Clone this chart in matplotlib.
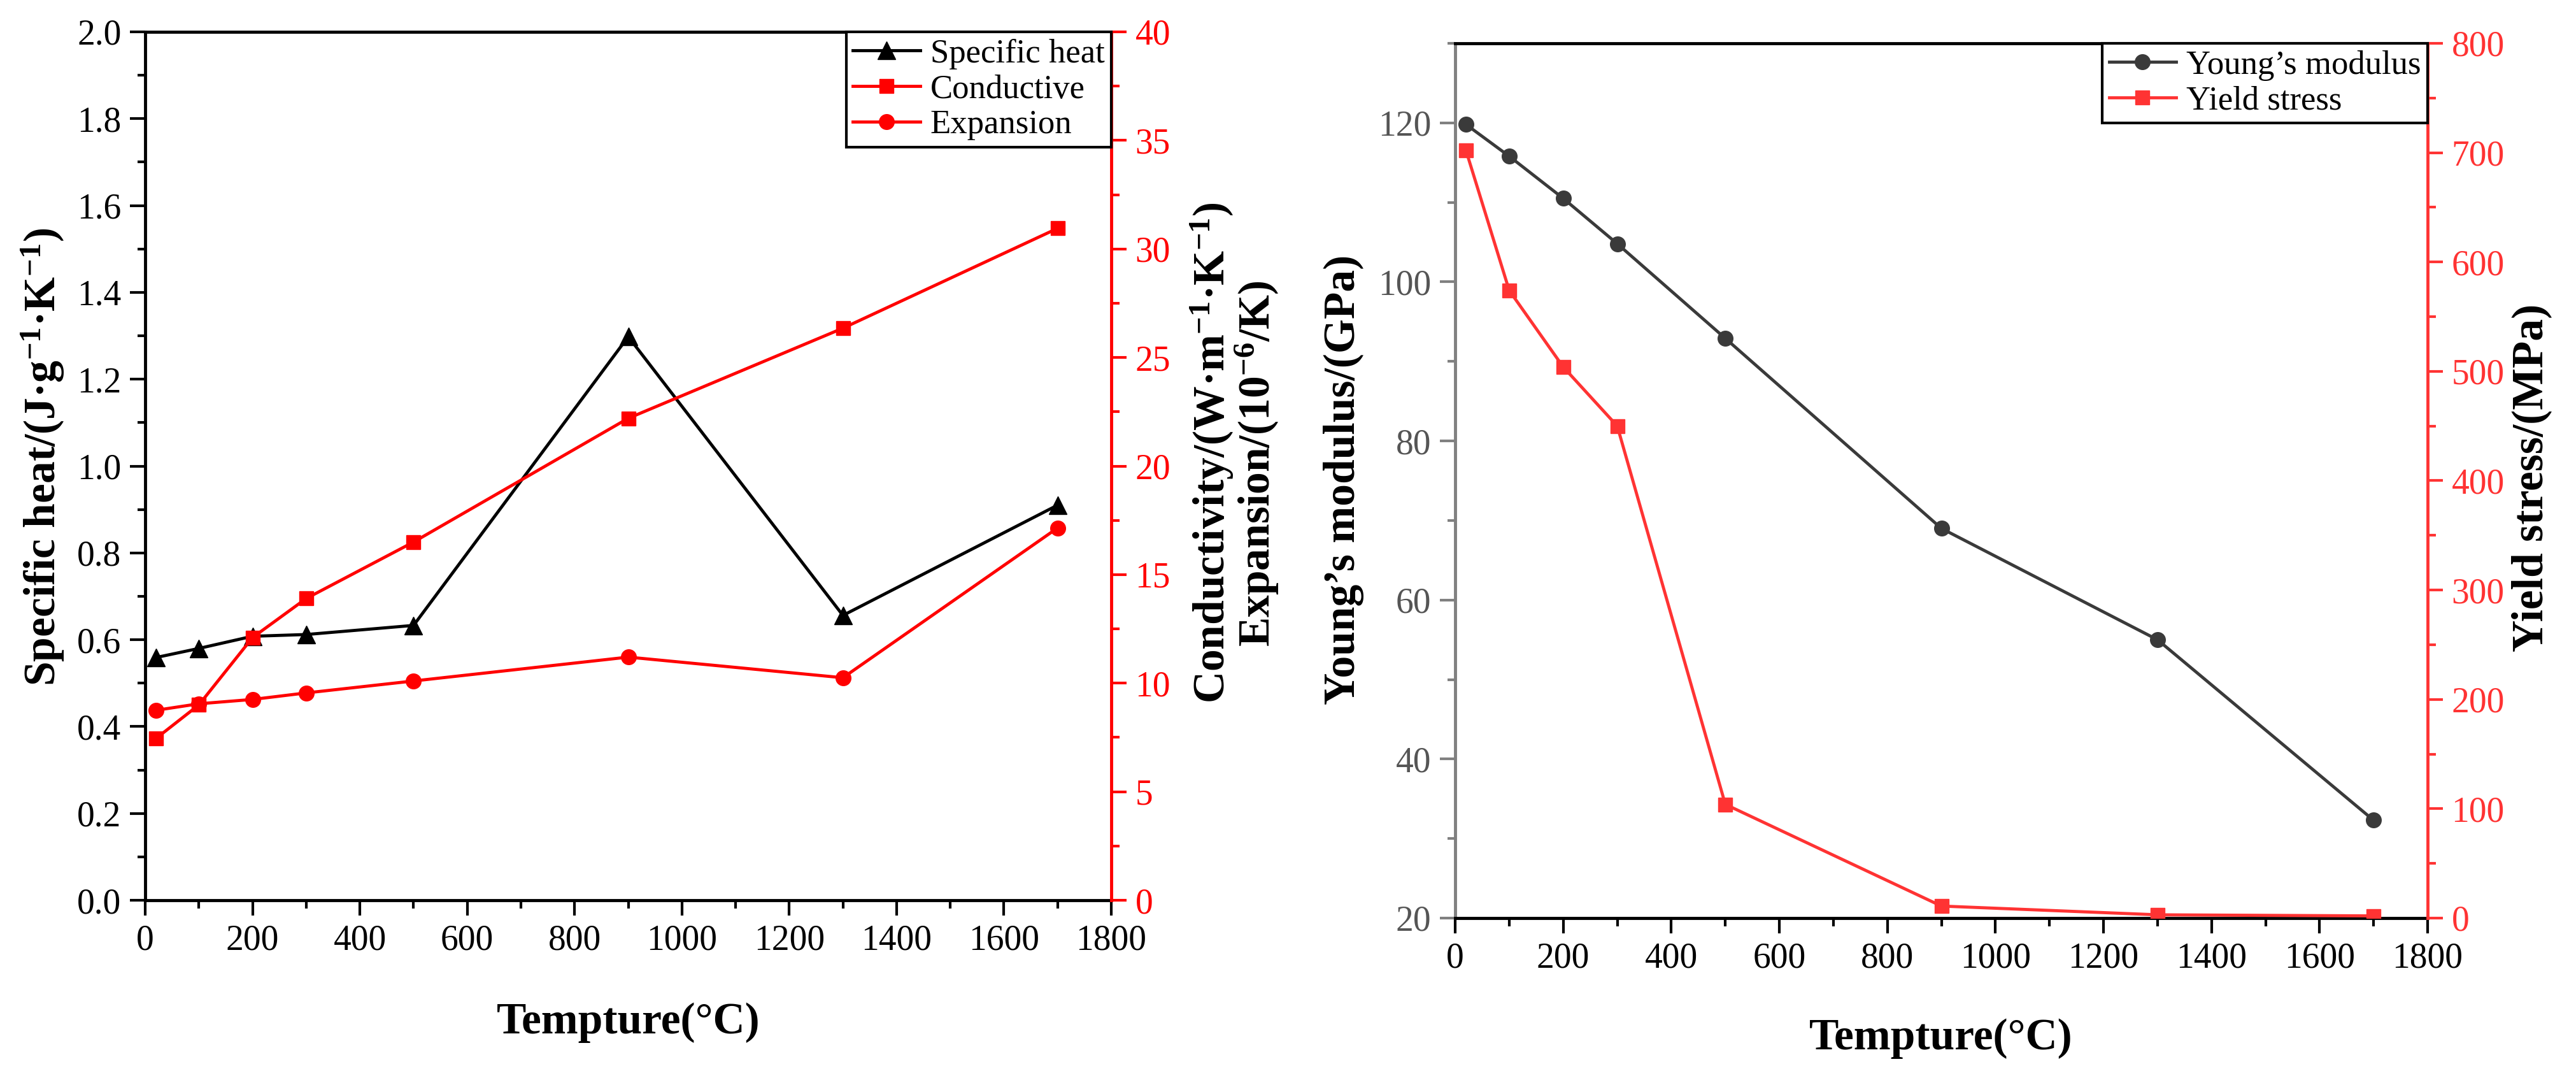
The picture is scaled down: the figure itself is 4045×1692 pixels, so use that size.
import matplotlib
matplotlib.use('Agg')
import matplotlib.pyplot as plt
from matplotlib.ticker import MultipleLocator

plt.rcParams['font.family'] = ['Liberation Serif', 'DejaVu Serif']
plt.rcParams['mathtext.fontset'] = 'custom'
plt.rcParams['mathtext.rm'] = 'Liberation Serif'
plt.rcParams['mathtext.bf'] = 'Liberation Serif:bold'
plt.rcParams['mathtext.it'] = 'Liberation Serif:italic'

# data
temps = [20, 100, 200, 300, 500, 900, 1300, 1700]
specific_heat = [0.559, 0.58, 0.608, 0.612, 0.633, 1.298, 0.656, 0.91]
conductive = [7.45, 9.0, 12.1, 13.9, 16.5, 22.2, 26.35, 30.95]
expansion = [8.75, 9.05, 9.25, 9.55, 10.1, 11.2, 10.25, 17.15]
youngs_modulus = [119.8, 115.8, 110.5, 104.8, 92.9, 69.0, 55.0, 32.3]
yield_stress = [702, 574, 504, 450, 104, 11, 3, 2]

RED = '#ff0000'
RED2 = '#ff3333'
GREY = '#3a3a3a'
TICK_FS = 40
LABEL_FS = 50
LEGEND_FS = 38
SPINE_W = 3.5
LW = 3.5


def style_ticks(ax, axis, color='black', labelcolor=None):
    ax.tick_params(axis=axis, which='major', direction='out', length=17, width=3,
                   color=color, labelcolor=labelcolor or color, labelsize=TICK_FS, pad=10)
    ax.tick_params(axis=axis, which='minor', direction='out', length=9, width=3, color=color)


fig = plt.figure(figsize=(40.45, 16.92), dpi=100)

# ---------- left panel ----------
ax1 = fig.add_axes([0.05637, 0.16489, 0.37503, 0.80556])
ax1b = ax1.twinx()

l1, = ax1.plot(temps, specific_heat, color='black', lw=LW, marker='^', ms=20,
               label='Specific heat')
l2, = ax1b.plot(temps, conductive, color=RED, lw=LW, marker='s', ms=16,
                label='Conductive')
l3, = ax1b.plot(temps, expansion, color=RED, lw=LW, marker='o', ms=17,
                label='Expansion')

ax1.set_xlim(0, 1800)
ax1.set_ylim(0, 2.0)
ax1b.set_ylim(0, 40)
ax1.xaxis.set_major_locator(MultipleLocator(200))
ax1.xaxis.set_minor_locator(MultipleLocator(100))
ax1.yaxis.set_major_locator(MultipleLocator(0.2))
ax1.yaxis.set_minor_locator(MultipleLocator(0.1))
ax1b.yaxis.set_major_locator(MultipleLocator(5))
ax1b.yaxis.set_minor_locator(MultipleLocator(2.5))
ax1.yaxis.set_major_formatter(plt.FuncFormatter(lambda v, p: f'{v:.1f}'))

style_ticks(ax1, 'x')
style_ticks(ax1, 'y')
style_ticks(ax1b, 'y', color=RED)
ax1.spines['right'].set_visible(False)
for s in ['left', 'top', 'bottom']:
    ax1b.spines[s].set_visible(False)
for s in ['left', 'top', 'bottom']:
    ax1.spines[s].set_linewidth(SPINE_W)
ax1b.spines['right'].set_linewidth(SPINE_W)
ax1b.spines['right'].set_color(RED)

leg1 = ax1b.legend(handles=[l1, l2, l3], loc='upper right', bbox_to_anchor=(1, 1),
                   borderaxespad=0, fancybox=False, edgecolor='black', framealpha=1,
                   fontsize=LEGEND_FS, handlelength=2.0, handletextpad=0.3,
                   labelspacing=0.15, borderpad=0.2)
leg1.get_frame().set_linewidth(3)

fig.text(0.0166, 0.5762, r'Specific heat/(J·g$^{\mathbf{-1}}$·K$^{\mathbf{-1}}$)',
         rotation=90, ha='center', va='center', fontsize=LABEL_FS, fontweight='bold')
fig.text(0.4705, 0.5800, r'Conductivity/(W·m$^{\mathbf{-1}}$·K$^{\mathbf{-1}}$)',
         rotation=90, ha='center', va='center', fontsize=LABEL_FS, fontweight='bold')
fig.text(0.4880, 0.5700, r'Expansion/(10$^{\mathbf{-6}}$/K)',
         rotation=90, ha='center', va='center', fontsize=LABEL_FS, fontweight='bold')
fig.text(0.244, 0.0514, 'Tempture(°C)', ha='center', va='center',
         fontsize=LABEL_FS, fontweight='bold')

# ---------- right panel ----------
ax2 = fig.add_axes([0.56490, 0.14835, 0.37750, 0.81147])
ax2b = ax2.twinx()

m1, = ax2.plot(temps, youngs_modulus, color=GREY, lw=LW, marker='o', ms=17,
               label='Young\u2019s modulus')
m2, = ax2b.plot(temps, yield_stress, color=RED2, lw=LW, marker='s', ms=16,
                label='Yield stress')

ax2.set_xlim(0, 1800)
ax2.set_ylim(20, 130)
ax2b.set_ylim(0, 800)
ax2.xaxis.set_major_locator(MultipleLocator(200))
ax2.xaxis.set_minor_locator(MultipleLocator(100))
ax2.yaxis.set_major_locator(MultipleLocator(20))
ax2.yaxis.set_minor_locator(MultipleLocator(10))
ax2b.yaxis.set_major_locator(MultipleLocator(100))
ax2b.yaxis.set_minor_locator(MultipleLocator(50))

style_ticks(ax2, 'x')
style_ticks(ax2, 'y', color='#808080', labelcolor='#555555')
style_ticks(ax2b, 'y', color=RED2)
ax2.spines['right'].set_visible(False)
for s in ['left', 'top', 'bottom']:
    ax2b.spines[s].set_visible(False)
for s in ['left', 'top', 'bottom']:
    ax2.spines[s].set_linewidth(SPINE_W)
ax2.spines['left'].set_color('#808080')
ax2b.spines['right'].set_linewidth(SPINE_W)
ax2b.spines['right'].set_color(RED2)

leg2 = ax2b.legend(handles=[m1, m2], loc='upper right', bbox_to_anchor=(1, 1),
                   borderaxespad=0, fancybox=False, edgecolor='black', framealpha=1,
                   fontsize=LEGEND_FS, handlelength=2.0, handletextpad=0.3,
                   labelspacing=0.15, borderpad=0.2)
leg2.get_frame().set_linewidth(3)

fig.text(0.5216, 0.555, 'Young\u2019s modulus/(GPa)', rotation=90, ha='center', va='center',
         fontsize=LABEL_FS, fontweight='bold')
fig.text(0.9827, 0.5567, 'Yield stress/(MPa)', rotation=90, ha='center', va='center',
         fontsize=LABEL_FS, fontweight='bold')
fig.text(0.7535, 0.0366, 'Tempture(°C)', ha='center', va='center',
         fontsize=LABEL_FS, fontweight='bold')

fig.savefig('out.png', dpi=100, facecolor='white')
